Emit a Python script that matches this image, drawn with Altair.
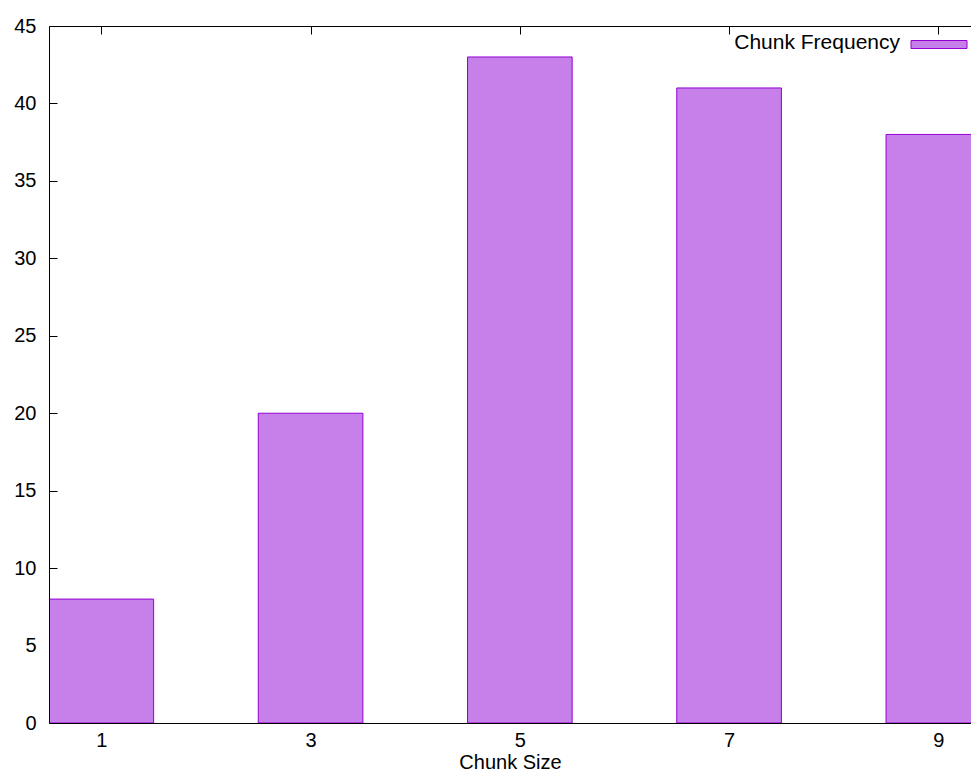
import altair as alt
import pandas as pd

# data
sizes = [1, 3, 5, 7, 9]
freqs = [8, 20, 43, 41, 38]
series = ["Chunk Frequency"] * len(sizes)
x_ticks = [1, 3, 5, 7, 9]
y_ticks = [0, 5, 10, 15, 20, 25, 30, 35, 40, 45]

df = pd.DataFrame({"size": sizes, "freq": freqs, "series": series})

FONT = "Liberation Sans"
FS = 20
FILL = "#c77fe9"
EDGE = "#9400d3"

xscale = alt.Scale(domain=[0.5, 9.312], nice=False, zero=False)
yscale = alt.Scale(domain=[0, 45], nice=False)

base = alt.Chart(df).transform_calculate(
    x0="datum.size - 0.5", x1="datum.size + 0.5"
)

bars = base.mark_bar(stroke=EDGE, strokeWidth=1, clip=True, opacity=1).encode(
    x=alt.X(
        "x0:Q",
        scale=xscale,
        axis=alt.Axis(
            orient="bottom", values=x_ticks, ticks=False, tickSize=0,
            domain=True, domainColor="black", domainWidth=1, zindex=1,
            labelPadding=7, title="Chunk Size", titlePadding=2, grid=False,
            labelFontSize=FS, titleFontSize=FS, titleFontWeight="normal",
            labelFont=FONT, titleFont=FONT, labelColor="black", titleColor="black",
            format="d",
        ),
    ),
    x2="x1:Q",
    y=alt.Y(
        "freq:Q",
        scale=yscale,
        axis=alt.Axis(
            orient="left", values=y_ticks, offset=-8, tickSize=8, ticks=True,
            tickColor="black", domain=False, labelPadding=13, title=None, grid=False,
            labelFontSize=FS, labelFont=FONT, labelColor="black",
        ),
    ),
    y2=alt.datum(0),
    color=alt.Color(
        "series:N",
        scale=alt.Scale(range=[FILL]),
        legend=alt.Legend(
            orient="none", legendX=830, legendY=6, title=None,
            symbolType="M21.5,-2L77.5,-2L77.5,6L21.5,6Z", symbolSize=4,
            symbolStrokeColor=EDGE, symbolStrokeWidth=1, symbolOpacity=1,
            symbolOffset=0,
            labelAlign="right", labelOffset=0, labelFontSize=21, labelFont=FONT,
            labelColor="black", labelLimit=0,
        ),
    ),
)

ticks_layer = base.mark_bar(opacity=0).encode(
    x=alt.X(
        "x0:Q",
        scale=xscale,
        axis=alt.Axis(
            orient="top", offset=-8, values=x_ticks, tickSize=8, tickColor="black",
            labels=False, domain=False, title=None, grid=False,
        ),
    ),
    x2="x1:Q",
    y=alt.Y(
        "freq:Q",
        scale=yscale,
        axis=alt.Axis(
            orient="left", offset=0, domain=True, domainColor="black", zindex=1,
            ticks=False, labels=False, title=None, grid=False,
        ),
    ),
    y2=alt.datum(0),
)

border_layer = base.mark_bar(opacity=0).encode(
    x=alt.X(
        "x0:Q",
        scale=xscale,
        axis=alt.Axis(
            orient="top", offset=0, domain=True, domainColor="black", zindex=1,
            ticks=False, labels=False, title=None, grid=False,
        ),
    ),
    x2="x1:Q",
    y=alt.Y("freq:Q", scale=yscale, axis=None),
    y2=alt.datum(0),
)

chart = (
    alt.layer(bars, ticks_layer, border_layer)
    .resolve_axis(x="independent", y="independent")
    .properties(
        width=922,
        height=697,
        autosize=alt.AutoSizeParams(type="none"),
        padding={"left": 41, "top": 18, "right": 0, "bottom": 48},
        background="white",
    )
    .configure_view(strokeWidth=0)
)

chart.save("out.html", embed_options={"renderer": "svg", "actions": False})
